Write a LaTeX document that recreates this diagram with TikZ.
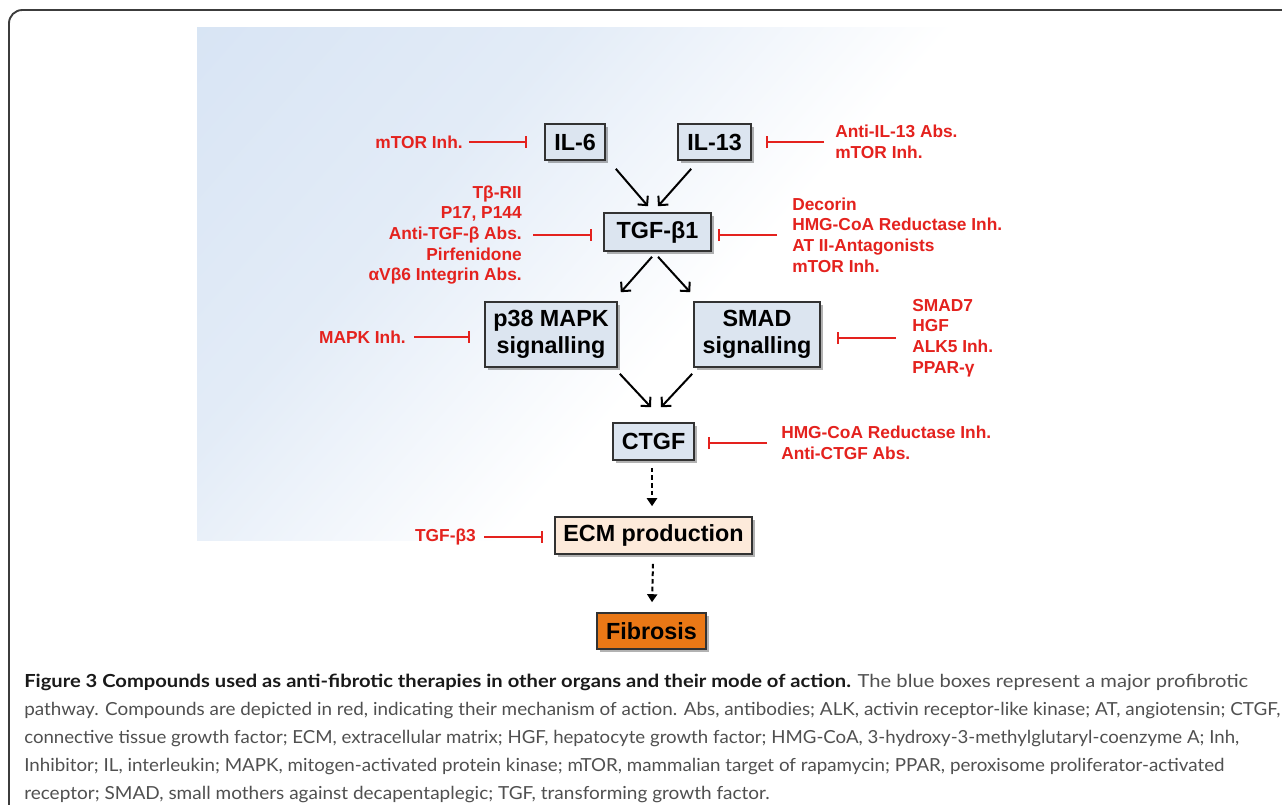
\documentclass[tikz,border=0pt]{standalone}
\usepackage{fontspec}
\setmainfont{Liberation Sans}
\newfontfamily\capfont{Lato}
\usepackage{graphicx}
\usetikzlibrary{arrows.meta,shadows}
\definecolor{pbl}{RGB}{208,223,242}
\definecolor{boxbl}{RGB}{220,229,240}
\definecolor{boxedge}{RGB}{50,50,50}
\definecolor{inhred}{RGB}{228,34,30}
\definecolor{ecmfill}{RGB}{253,234,218}
\definecolor{fibfill}{RGB}{234,120,22}
\definecolor{capgray}{RGB}{80,80,80}
\definecolor{framecol}{RGB}{60,60,60}
\newcommand\px[1]{#1*0.75pt}
\newsavebox\capbox
\newcommand\fitline[2]{\sbox\capbox{#2}\pgfmathsetmacro\capf{#1/\the\wd\capbox}\scalebox{\capf}[1]{\usebox\capbox}}
\pgfdeclareverticalshading{panelshade}{100bp}{color(0bp)=(white); color(46bp)=(white); color(66bp)=(pbl!60); color(100bp)=(pbl)}
\tikzset{
  bx/.style={draw=boxedge, line width=1.2pt, fill=boxbl, inner sep=0pt, align=center,
    font=\bfseries\fontsize{17.5}{20.5}\selectfont,
    drop shadow={shadow xshift=2pt, shadow yshift=-2pt, opacity=0.3, fill=black}},
  rt/.style={text=inhred, inner sep=0pt, font=\bfseries\fontsize{13}{15.5}\selectfont},
  inh/.style={draw=inhred, line width=1.7pt, -{Bar[width=\px{12}, line width=1.7pt]}},
  arr/.style={draw=black, line width=1.5pt, -{Straight Barb[length=5pt, width=10pt, line width=1.5pt]}},
  darr/.style={draw=black, line width=1.5pt, dash pattern=on 3.5pt off 2.2pt, -{Triangle[length=6pt, width=7.5pt]}},
  capst/.style={anchor=base west, inner sep=0pt, text=capgray, font=\capfont\fontsize{13.5}{16}\selectfont}
}
\begin{document}
\begin{tikzpicture}[x=0.75pt, y=-0.75pt]
\useasboundingbox (0,0) rectangle (1282,804);
\clip (0,0) rectangle (1282,804);
\fill[white] (0,0) rectangle (1282,804);
% outer frame
\draw[framecol, line width=1.4pt, rounded corners=10pt] (9,10) rectangle (1300,830);
% background panel
\shade[shading=panelshade, shading angle=48.6] (197,27) rectangle (1105,540);

% boxes
\node[bx, minimum width=\px{60}, minimum height=\px{36}] (il6) at (575,142) {IL-6};
\node[bx, minimum width=\px{73}, minimum height=\px{36}] (il13) at (714.5,142) {IL-13};
\node[bx, minimum width=\px{107}, minimum height=\px{38}] (tgf) at (657.5,232) {TGF-β1};
\node[bx, minimum width=\px{132}, minimum height=\px{65}] (p38) at (551,334.5) {p38 MAPK\\signalling};
\node[bx, minimum width=\px{126}, minimum height=\px{65}] (smad) at (757,334.5) {SMAD\\signalling};
\node[bx, minimum width=\px{81}, minimum height=\px{37}] (ctgf) at (653.5,441.5) {CTGF};
\node[bx, fill=ecmfill, minimum width=\px{197}, minimum height=\px{37}] (ecm) at (653.5,535.5) {ECM production};
\node[bx, fill=fibfill, minimum width=\px{109}, minimum height=\px{36}] (fib) at (651.5,631) {Fibrosis};

% pathway arrows
\draw[arr] ([shift={(10,8)}]il6.south east) -- ([shift={(-9.5,-6)}]tgf.north);
\draw[arr] ([shift={(14,8)}]il13.south west) -- ([shift={(0.5,-6)}]tgf.north);
\draw[arr] ([shift={(-5.5,5)}]tgf.south) -- ([shift={(3,-9)}]p38.north east);
\draw[arr] ([shift={(0.5,5)}]tgf.south) -- ([shift={(-3,-9)}]smad.north west);
\draw[arr] ([shift={(2,6)}]p38.south east) -- ([shift={(-2.5,-15)}]ctgf.north);
\draw[arr] ([shift={(-1,6)}]smad.south west) -- ([shift={(7.5,-15)}]ctgf.north);
\draw[darr] ([shift={(-1.5,7)}]ctgf.south) -- ([shift={(-1.5,-10)}]ecm.north);
\draw[darr] ([shift={(-0.5,9)}]ecm.south) -- ([shift={(0.5,-10)}]fib.north);

% compounds
\node[rt, anchor=east] (i1) at (463,142) {mTOR Inh.};
\node[rt, anchor=west, align=left] (i2) at (835,142) {Anti-IL-13 Abs.\\mTOR Inh.};
\node[rt, anchor=east, align=right] (i3) at (522,235) {Tβ-RII\\P17, P144\\Anti-TGF-β Abs.\\Pirfenidone\\αVβ6 Integrin Abs.};
\node[rt, anchor=west, align=left] (i4) at (792,235) {Decorin\\HMG-CoA Reductase Inh.\\AT II-Antagonists\\mTOR Inh.};
\node[rt, anchor=east] (i5) at (406,337) {MAPK Inh.};
\node[rt, anchor=west, align=left] (i6) at (912,338) {SMAD7\\HGF\\ALK5 Inh.\\PPAR-γ};
\node[rt, anchor=west, align=left] (i7) at (781,443) {HMG-CoA Reductase Inh.\\Anti-CTGF Abs.};
\node[rt, anchor=east] (i8) at (476,537) {TGF-β3};

\coordinate (t1) at (i1.east -| il6.west);
\coordinate (t2) at (i2.west -| il13.east);
\coordinate (t3) at (i3.east -| tgf.west);
\coordinate (t4) at (i4.west -| tgf.east);
\coordinate (t5) at (i5.east -| p38.west);
\coordinate (t6) at (i6.west -| smad.east);
\coordinate (t7) at (i7.west -| ctgf.east);
\coordinate (t8) at (i8.east -| ecm.west);

\draw[inh] ([xshift=\px{6}]i1.east) -- ([xshift=-\px{17}]t1);
\draw[inh] ([xshift=-\px{11}]i2.west) -- ([xshift=\px{14}]t2);
\draw[inh] ([xshift=\px{11}]i3.east) -- ([xshift=-\px{11}]t3);
\draw[inh] ([xshift=-\px{15}]i4.west) -- ([xshift=\px{6}]t4);
\draw[inh] ([xshift=\px{8}]i5.east) -- ([xshift=-\px{14}]t5);
\draw[inh] ([xshift=-\px{16}]i6.west) -- ([xshift=\px{16}]t6);
\draw[inh] ([xshift=-\px{14}]i7.west) -- ([xshift=\px{13}]t7);
\draw[inh] ([xshift=\px{8}]i8.east) -- ([xshift=-\px{11}]t8);

% caption
\node[capst] (c1) at (24,687) {\fitline{918}{{\color{black!90}\bfseries Figure 3 Compounds used as anti-fibrotic therapies in other organs and their mode of action.} The blue boxes represent a major profibrotic}};
\node[capst] (c2) at (24,715) {\fitline{942}{pathway. Compounds are depicted in red, indicating their mechanism of action. Abs, antibodies; ALK, activin receptor-like kinase; AT, angiotensin; CTGF,}};
\node[capst] (c3) at (24,743) {\fitline{911}{connective tissue growth factor; ECM, extracellular matrix; HGF, hepatocyte growth factor; HMG-CoA, 3-hydroxy-3-methylglutaryl-coenzyme A; Inh,}};
\node[capst] (c4) at (24,771) {\fitline{900}{Inhibitor; IL, interleukin; MAPK, mitogen-activated protein kinase; mTOR, mammalian target of rapamycin; PPAR, peroxisome proliferator-activated}};
\node[capst] (c5) at (24,799) {\fitline{559}{receptor; SMAD, small mothers against decapentaplegic; TGF, transforming growth factor.}};
\end{tikzpicture}
\end{document}
